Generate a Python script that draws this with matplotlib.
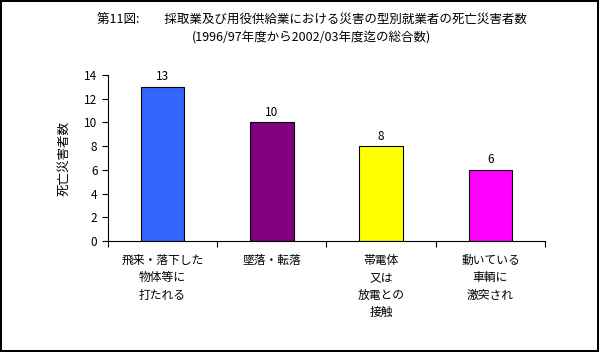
import matplotlib
matplotlib.use("Agg")
import matplotlib.pyplot as plt
import numpy as np

plt.rcParams['font.family'] = ['Noto Sans CJK JP', 'DejaVu Sans']

categories = ["飛来・落下した\n物体等に\n打たれる", "墜落・転落", "帯電体\n又は\n放電との\n接触", "動いている\n車輌に\n激突され"]
values = [13, 10, 8, 6]
colors = ["#3366FF", "#800080", "#FFFF00", "#FF00FF"]
title = "第11図:　　採取業及び用役供給業における災害の型別就業者の死亡災害者数\n(1996/97年度から2002/03年度迄の総合数)"
ylabel = "死亡災害者数"
yticks = [0, 2, 4, 6, 8, 10, 12, 14]

fig = plt.figure(figsize=(5.99, 3.52), dpi=100)
fig.patch.set_facecolor("white")
fig.patch.set_edgecolor("black")
fig.patch.set_linewidth(1.5)

ax = fig.add_axes([0.180, 0.315, 0.730, 0.472])
x = np.arange(len(values))
ax.bar(x, values, width=0.4, color=colors, edgecolor="black", linewidth=0.8)
for xi, v in zip(x, values):
    ax.text(xi, v + 0.3, str(v), ha="center", va="bottom", fontsize=8.5)

ax.set_xlim(-0.5, len(values) - 0.5)
ax.set_ylim(0, 14)
ax.set_yticks(yticks)
ax.tick_params(axis="y", labelsize=8.5, direction="out", length=4, width=0.8)
ax.set_xticks(np.arange(len(values) + 1) - 0.5)
ax.set_xticklabels([])
ax.tick_params(axis="x", which="major", direction="out", length=4, width=0.8)
ax.set_xticks(x, minor=True)
ax.set_xticklabels(categories, minor=True, fontsize=8.5, linespacing=1.45, va="top")
ax.tick_params(axis="x", which="minor", length=0, pad=9)
for s in ["top", "right"]:
    ax.spines[s].set_visible(False)
for s in ["left", "bottom"]:
    ax.spines[s].set_linewidth(0.8)
ax.set_ylabel(ylabel, fontsize=9, labelpad=10)

fig.text(0.52, 0.918, title, ha="center", va="center", fontsize=9, linespacing=1.5)

fig.savefig("out.png", dpi=100, facecolor=fig.get_facecolor(), edgecolor=fig.get_edgecolor())
